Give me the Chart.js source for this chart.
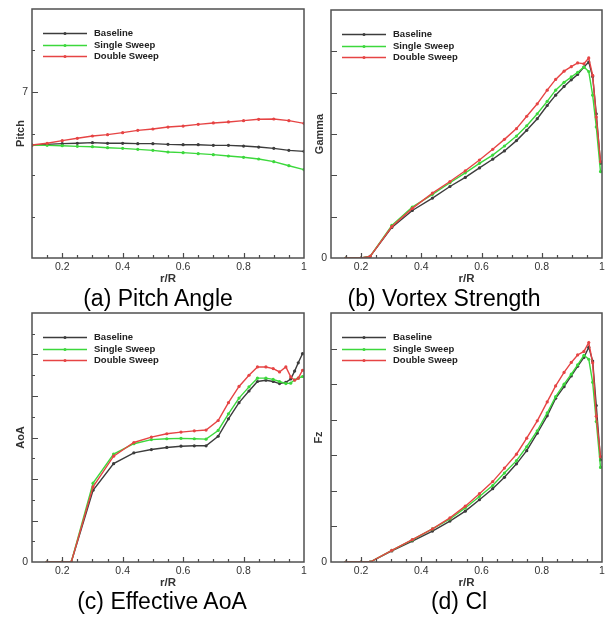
<!DOCTYPE html>
<html>
<head>
<meta charset="utf-8">
<script src="https://cdn.jsdelivr.net/npm/chart.js@4.4.1/dist/chart.umd.min.js"></script>
<style>
  html, body { margin: 0; padding: 0; background: #fff; }
  body { width: 606px; height: 617px; position: relative; overflow: hidden; }
  .panel { position: absolute; }
  .cap { position: absolute; font-family: 'Liberation Sans', Arial, sans-serif; font-size: 23px; line-height: 26px; color: #000; white-space: nowrap; transform: translateX(-50%); }
</style>
</head>
<body>
<div class="panel" style="left:0;top:0"><canvas id="pitchChart" width="308" height="286"></canvas></div>
<div class="panel" style="left:308px;top:0"><canvas id="gammaChart" width="298" height="286"></canvas></div>
<div class="panel" style="left:0;top:304px"><canvas id="aoaChart" width="308" height="286"></canvas></div>
<div class="panel" style="left:308px;top:304px"><canvas id="fzChart" width="298" height="286"></canvas></div>
<div class="cap" style="left:158px;top:285px">(a) Pitch Angle</div>
<div class="cap" style="left:444px;top:285px">(b) Vortex Strength</div>
<div class="cap" style="left:162px;top:588px">(c) Effective AoA</div>
<div class="cap" style="left:459px;top:588px">(d) Cl</div>
<script>
var seriesNames = ['Baseline', 'Single Sweep', 'Double Sweep'];
var seriesColors = ['#3c3c3c', '#3cd83c', '#e64444'];

var xTickValues = [0.2, 0.4, 0.6, 0.8, 1];
var xTickLabels = ['0.2', '0.4', '0.6', '0.8', '1'];

// (a) pitch, sampled every 0.05
var pitchR = [0.1, 0.15, 0.2, 0.25, 0.3, 0.35, 0.4, 0.45, 0.5, 0.55, 0.6, 0.65, 0.7, 0.75, 0.8, 0.85, 0.9, 0.95, 1.0];
var pitchBaseline = [6.361, 6.369, 6.378, 6.382, 6.390, 6.382, 6.382, 6.378, 6.378, 6.369, 6.365, 6.365, 6.357, 6.357, 6.349, 6.337, 6.321, 6.297, 6.285];
var pitchSingle = [6.361, 6.357, 6.353, 6.345, 6.341, 6.329, 6.321, 6.309, 6.297, 6.277, 6.269, 6.257, 6.245, 6.229, 6.213, 6.193, 6.161, 6.112, 6.064];
var pitchDouble = [6.361, 6.382, 6.414, 6.442, 6.470, 6.486, 6.510, 6.538, 6.554, 6.578, 6.590, 6.610, 6.627, 6.639, 6.655, 6.671, 6.675, 6.655, 6.622];
var pitchTickValues = [7];
var pitchTickLabels = ['7'];

// (b)-(d) blade stations
var spanR = [0.15, 0.2, 0.23, 0.302, 0.37, 0.437, 0.495, 0.546, 0.593, 0.637, 0.676, 0.716, 0.75, 0.785, 0.818, 0.846, 0.874, 0.898, 0.919, 0.94, 0.956, 0.969, 0.981, 0.995];

var gammaBaseline = [0, 0, 0.04, 0.74, 1.15, 1.45, 1.73, 1.95, 2.18, 2.39, 2.59, 2.84, 3.09, 3.37, 3.69, 3.94, 4.15, 4.31, 4.44, 4.62, 4.74, 4.39, 3.49, 2.29];
var gammaSingle = [0, 0, 0.04, 0.79, 1.23, 1.54, 1.82, 2.06, 2.29, 2.49, 2.71, 2.95, 3.2, 3.49, 3.79, 4.06, 4.25, 4.38, 4.49, 4.62, 4.51, 3.94, 3.17, 2.09];
var gammaDouble = [0, 0, 0.04, 0.76, 1.2, 1.57, 1.85, 2.11, 2.37, 2.63, 2.87, 3.13, 3.43, 3.73, 4.06, 4.32, 4.52, 4.63, 4.72, 4.70, 4.84, 4.42, 3.41, 2.33];
var gammaTickValues = [0];
var gammaTickLabels = ['0'];

var aoaBaseline = [0, 0, 0, 1.73, 2.37, 2.63, 2.71, 2.76, 2.79, 2.80, 2.80, 3.03, 3.45, 3.84, 4.12, 4.35, 4.38, 4.35, 4.30, 4.33, 4.41, 4.60, 4.80, 5.02];
var aoaSingle = [0, 0, 0, 1.90, 2.60, 2.85, 2.95, 2.97, 2.98, 2.97, 2.96, 3.17, 3.57, 3.95, 4.22, 4.43, 4.43, 4.40, 4.35, 4.30, 4.31, 4.39, 4.43, 4.47];
var aoaDouble = [0, 0, 0, 1.81, 2.55, 2.88, 3.01, 3.09, 3.13, 3.16, 3.18, 3.41, 3.84, 4.23, 4.50, 4.70, 4.70, 4.66, 4.58, 4.70, 4.46, 4.38, 4.43, 4.62];
var aoaTickValues = [0];
var aoaTickLabels = ['0'];

var fzBaseline = [0, 0, 0, 0.31, 0.59, 0.87, 1.15, 1.43, 1.75, 2.06, 2.38, 2.76, 3.13, 3.62, 4.11, 4.60, 4.93, 5.23, 5.50, 5.75, 6.04, 5.65, 4.40, 2.87];
var fzSingle = [0, 0, 0, 0.33, 0.62, 0.93, 1.21, 1.52, 1.84, 2.15, 2.50, 2.85, 3.24, 3.69, 4.19, 4.65, 5.00, 5.28, 5.54, 5.81, 5.70, 5.05, 3.95, 2.66];
var fzDouble = [0, 0, 0, 0.33, 0.63, 0.93, 1.24, 1.57, 1.92, 2.26, 2.64, 3.03, 3.48, 3.97, 4.50, 4.95, 5.33, 5.61, 5.82, 5.92, 6.17, 5.60, 4.10, 2.96];
var fzTickValues = [0];
var fzTickLabels = ['0'];

var FONT = "'Liberation Sans', Arial, sans-serif";

function isOn(v, step) {
    var q = v / step;
    return Math.abs(q - Math.round(q)) < 1e-6;
}

// box around plot area + tecplot style inward ticks
var frameTicks = {
    id: 'frameTicks',
    afterDatasetsDraw: function (chart, args, opts) {
        var ctx = chart.ctx, a = chart.chartArea;
        var x = chart.scales.x, y = chart.scales.y;
        ctx.save();
        ctx.strokeStyle = '#4a4a4a';
        ctx.lineWidth = 1.2;
        ctx.beginPath();
        var n = Math.round((x.max - x.min) / 0.05);
        for (var i = 1; i < n; i++) {
            var v = x.min + i * 0.05;
            var len = isOn(v, 0.2) ? 5 : 3;
            var px = Math.round(x.getPixelForValue(v)) + 0.5;
            ctx.moveTo(px, a.bottom);
            ctx.lineTo(px, a.bottom - len);
        }
        var m = Math.round((y.max - y.min) / opts.yMinor);
        for (var j = 1; j < m; j++) {
            var w = y.min + j * opts.yMinor;
            var major = opts.yMajor ? isOn(w, opts.yMajor) : opts.majors.indexOf(w) >= 0;
            var py = Math.round(y.getPixelForValue(w)) + 0.5;
            ctx.moveTo(a.left, py);
            ctx.lineTo(a.left + (major ? 6 : 3), py);
        }
        ctx.stroke();
        ctx.lineWidth = 1.5;
        ctx.strokeStyle = '#505050';
        ctx.strokeRect(a.left, a.top, a.width, a.height);
        ctx.restore();
    }
};

// legend drawn inside the plot, top left
var innerLegend = {
    id: 'innerLegend',
    afterDraw: function (chart) {
        var ctx = chart.ctx, a = chart.chartArea;
        ctx.save();
        ctx.font = 'bold 9.5px ' + FONT;
        ctx.textBaseline = 'middle';
        chart.data.datasets.forEach(function (ds, i) {
            var yy = Math.round(a.top + 24 + i * 11.7) + 0.5;
            ctx.strokeStyle = ds.borderColor;
            ctx.lineWidth = 1.4;
            ctx.beginPath();
            ctx.moveTo(a.left + 11, yy);
            ctx.lineTo(a.left + 55, yy);
            ctx.stroke();
            ctx.fillStyle = ds.borderColor;
            ctx.beginPath();
            ctx.arc(a.left + 33, yy, 1.5, 0, Math.PI * 2);
            ctx.fill();
            ctx.fillStyle = '#222';
            ctx.fillText(ds.label, a.left + 62, yy);
        });
        ctx.restore();
    }
};

function makeSets(r, series) {
    return series.map(function (vals, i) {
        return {
            label: seriesNames[i],
            data: r.map(function (rv, k) { return { x: rv, y: vals[k] }; }),
            borderColor: seriesColors[i],
            backgroundColor: seriesColors[i],
            borderWidth: 1.4,
            pointRadius: 1.6,
            pointBorderWidth: 0,
            pointBackgroundColor: seriesColors[i],
            tension: 0,
            order: 3 - i
        };
    });
}

function makeChart(id, r, series, yTitle, yMin, yMax, yTickVals, yTickLabs, frame, pad, axisW, titlePad) {
    return new Chart(document.getElementById(id).getContext('2d'), {
        type: 'line',
        data: { datasets: makeSets(r, series) },
        options: {
            responsive: false,
            animation: false,
            devicePixelRatio: 1,
            events: [],
            layout: { padding: pad },
            plugins: {
                legend: { display: false },
                tooltip: { enabled: false },
                frameTicks: frame
            },
            scales: {
                x: {
                    type: 'linear',
                    min: 0.1,
                    max: 1,
                    grid: { display: false, drawTicks: false },
                    border: { display: false },
                    afterBuildTicks: function (s) {
                        s.ticks = xTickValues.map(function (v) { return { value: v }; });
                    },
                    afterFit: function (s) {
                        s.height = 28;
                        s.paddingLeft = 0;
                        s.paddingRight = 0;
                    },
                    ticks: {
                        autoSkip: false,
                        maxRotation: 0,
                        padding: 3,
                        color: '#333',
                        font: { family: FONT, size: 10.5 },
                        callback: function (v, i) { return xTickLabels[i]; }
                    },
                    title: {
                        display: true,
                        text: 'r/R',
                        color: '#333',
                        padding: 0,
                        font: { family: FONT, size: 11.5, weight: 'bold' }
                    }
                },
                y: {
                    type: 'linear',
                    min: yMin,
                    max: yMax,
                    grid: { display: false, drawTicks: false },
                    border: { display: false },
                    afterBuildTicks: function (s) {
                        s.ticks = yTickVals.map(function (v) { return { value: v }; });
                    },
                    afterFit: function (s) {
                        s.width = axisW;
                        s.paddingTop = 0;
                        s.paddingBottom = 0;
                    },
                    ticks: {
                        autoSkip: false,
                        padding: 4,
                        color: '#333',
                        font: { family: FONT, size: 10.5 },
                        callback: function (v, i) { return yTickLabs[i]; }
                    },
                    title: {
                        display: true,
                        text: yTitle,
                        color: '#333',
                        padding: { top: titlePad, bottom: 0 },
                        font: { family: FONT, size: 11, weight: 'bold' }
                    }
                }
            }
        },
        plugins: [frameTicks, innerLegend]
    });
}

makeChart('pitchChart', pitchR, [pitchBaseline, pitchSingle, pitchDouble], 'Pitch', 5, 8,
    pitchTickValues, pitchTickLabels, { yMinor: 0.5, yMajor: 0, majors: pitchTickValues },
    { left: 0, top: 9, right: 2, bottom: 0 }, 32, 14);

makeChart('gammaChart', spanR, [gammaBaseline, gammaSingle, gammaDouble], 'Gamma', 0, 6,
    gammaTickValues, gammaTickLabels, { yMinor: 1, yMajor: 1, majors: [] },
    { left: 0, top: 10, right: 3, bottom: 0 }, 23, 5);

makeChart('aoaChart', spanR, [aoaBaseline, aoaSingle, aoaDouble], 'AoA', 0, 6,
    aoaTickValues, aoaTickLabels, { yMinor: 0.5, yMajor: 1, majors: [] },
    { left: 0, top: 9, right: 2, bottom: 0 }, 32, 14);

makeChart('fzChart', spanR, [fzBaseline, fzSingle, fzDouble], 'Fz', 0, 7,
    fzTickValues, fzTickLabels, { yMinor: 1, yMajor: 1, majors: [] },
    { left: 0, top: 9, right: 3, bottom: 0 }, 23, 4);
</script>
</body>
</html>
